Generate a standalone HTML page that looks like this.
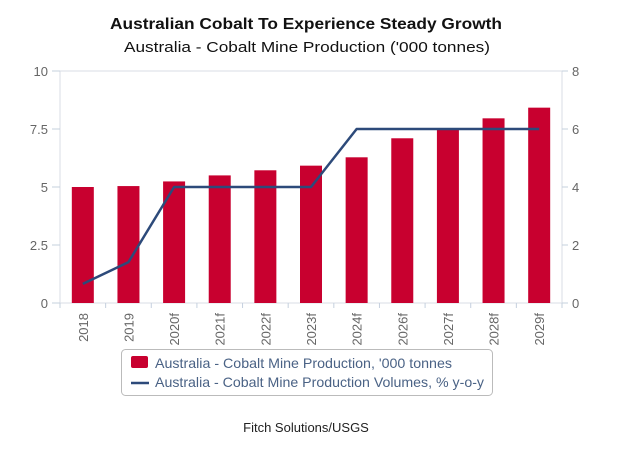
<!DOCTYPE html>
<html><head><meta charset="utf-8"><style>
html,body{margin:0;padding:0;background:#fff;width:638px;height:476px;overflow:hidden}
text{font-family:"Liberation Sans",sans-serif}
</style></head><body>
<svg id="chart" width="638" height="476" viewBox="0 0 638 476" xmlns="http://www.w3.org/2000/svg">
<text x="306" y="29" text-anchor="middle" font-size="16" font-weight="bold" fill="#111" textLength="392" lengthAdjust="spacingAndGlyphs">Australian Cobalt To Experience Steady Growth</text>
<text x="307" y="52" text-anchor="middle" font-size="15" fill="#111" textLength="366" lengthAdjust="spacingAndGlyphs">Australia - Cobalt Mine Production ('000 tonnes)</text>
<g id="plot"></g>
<g>
<rect x="121.5" y="349.5" width="371" height="46" rx="4" fill="#fff" stroke="#bbb"/>
<rect x="131" y="356" width="17" height="12" rx="2" fill="#c8002f"/>
<text x="155" y="368" font-size="14" fill="#4a6285" textLength="297" lengthAdjust="spacingAndGlyphs">Australia - Cobalt Mine Production, '000 tonnes</text>
<line x1="131" y1="383" x2="149" y2="383" stroke="#2d4a7a" stroke-width="2.5"/>
<text x="155" y="387" font-size="14" fill="#4a6285" textLength="329" lengthAdjust="spacingAndGlyphs">Australia - Cobalt Mine Production Volumes, % y-o-y</text>
</g>
<text x="306" y="432" text-anchor="middle" font-size="13" fill="#222">Fitch Solutions/USGS</text>
</svg>
<script>
const categories = ["2018","2019","2020f","2021f","2022f","2023f","2024f","2026f","2027f","2028f","2029f"];
const production = [5.0,5.04,5.24,5.5,5.72,5.92,6.28,7.1,7.53,7.96,8.42];
const growth = [0.66,1.41,4,4,4,4,6,6,6,6,6];
const leftTicks = [0,2.5,5,7.5,10];
const leftTickLabels = ["0","2.5","5","7.5","10"];
const rightTicks = [0,2,4,6,8];

const NS="http://www.w3.org/2000/svg";
const g=document.getElementById('plot');
const L=60,R=562,T=71,B=303;
const band=(R-L)/categories.length;
const xC=i=>L+band*(i+0.5);
const yL=v=>B-(v/10)*(B-T);
const yR=v=>B-(v/8)*(B-T);
function mk(tag,attrs){const e=document.createElementNS(NS,tag);for(const k in attrs)e.setAttribute(k,attrs[k]);g.appendChild(e);return e;}

let e=mk('rect',{x:L,y:T,width:R-L,height:B-T,fill:'none',stroke:'#d8dde6','stroke-width':1});



leftTicks.forEach((v,i)=>{
  let t=mk('line',{x1:52,x2:L,y1:yL(v),y2:yL(v),stroke:'#c5d0de'});
  
  
  let tx=mk('text',{x:48,y:yL(v)+5,'text-anchor':'end','font-size':13,fill:'#666'});
  tx.textContent=leftTickLabels[i];
  
  
});
rightTicks.forEach(v=>{
  let t=mk('line',{x1:R,x2:R+6,y1:yR(v),y2:yR(v),stroke:'#c5d0de'});
  
  
  let tx=mk('text',{x:R+10,y:yR(v)+5,'font-size':13,fill:'#666'});
  tx.textContent=String(v);
  
  
});
for(let i=0;i<=categories.length;i++){
  let t=mk('line',{x1:L+band*i,x2:L+band*i,y1:B,y2:B+5,stroke:'#c5d0de'});
  
  
}
categories.forEach((c,i)=>{
  let b=mk('rect',{x:xC(i)-11,y:yL(production[i]),width:22,height:B-yL(production[i]),fill:'#c8002f'});
  
  
  let tx=mk('text',{transform:`translate(${xC(i)+5},${B+10}) rotate(-90)`,'text-anchor':'end','font-size':13,fill:'#666'});
  tx.textContent=c;
  
  
});
let p=mk('polyline',{points:growth.map((v,i)=>xC(i)+','+yR(v)).join(' '),fill:'none',stroke:'#2d4a7a','stroke-width':2.5,'stroke-linejoin':'round'});


</script>
</body></html>
